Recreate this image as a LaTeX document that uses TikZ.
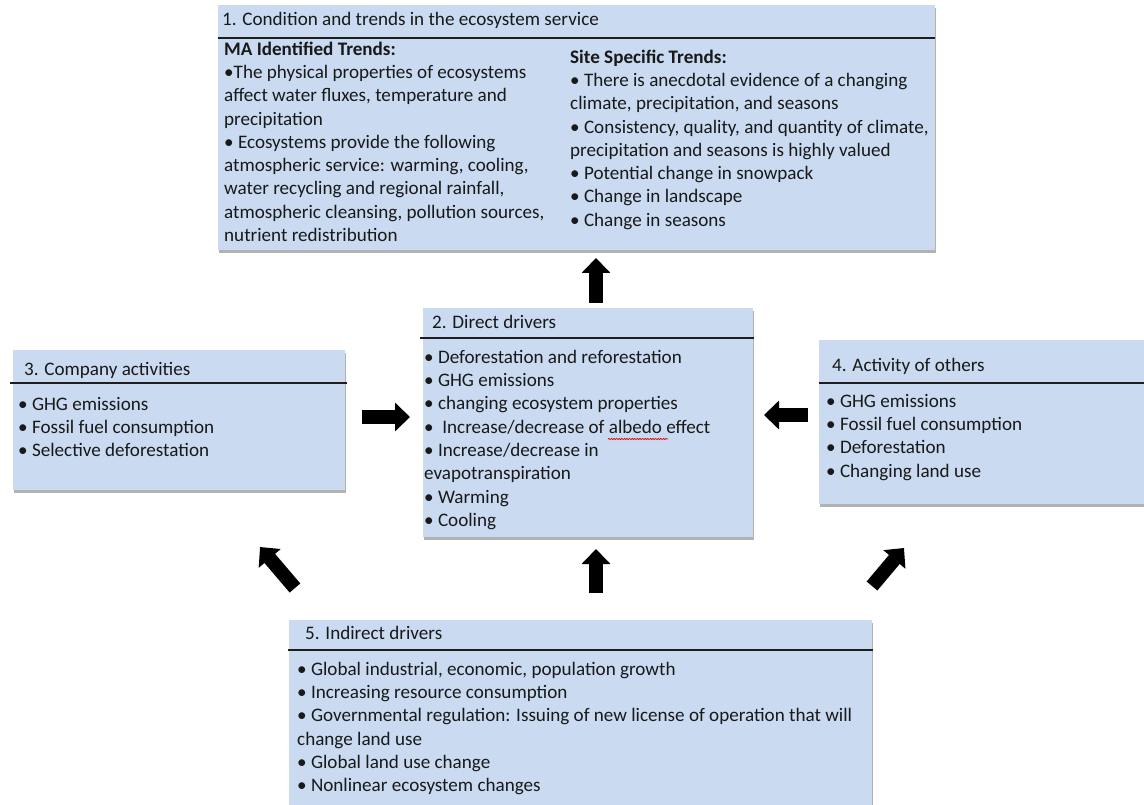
\documentclass[tikz,border=0pt]{standalone}
\usepackage{fontspec}
\setmainfont{Carlito}
\usetikzlibrary{arrows.meta,shadows,calc,decorations.pathmorphing}
\definecolor{boxblue}{RGB}{201,218,241}
\definecolor{hdrline}{RGB}{30,30,30}
\tikzset{
  box/.style={draw=none, fill=boxblue, anchor=north west, inner sep=0pt,
    drop shadow={shadow xshift=0.6pt, shadow yshift=-2.5pt, fill=black, opacity=0.3}},
  hdr/.style={draw=hdrline, line width=2pt},
  txt/.style={anchor=north west, inner sep=0pt, align=left,
    font=\fontsize{19.1}{23.3}\selectfont, text=black!90},
  blockarrow/.style={line width=14pt, line cap=butt,
    -{Triangle[width=28pt,length=15pt]}},
}
\newcommand{\fl}{\rule{0pt}{15pt}}
\begin{document}
\begin{tikzpicture}[x=1pt,y=-1pt]
\useasboundingbox[fill=white] (0,0) rectangle (1144,805);
\clip (0,0) rectangle (1144,805);

% boxes
\node[box, minimum width=717pt, minimum height=245pt] (b1) at (218,5) {};
\node[box, minimum width=330pt, minimum height=229pt] (b2) at (423,308) {};
\node[box, minimum width=332pt, minimum height=140pt] (b3) at (13,350) {};
\node[box, minimum width=340pt, minimum height=164pt] (b4) at (819,340) {};
\node[box, minimum width=583pt, minimum height=200pt] (b5) at (289,620) {};

% header lines
\draw[hdr] ($(b1.north west)+(0,33)$) -- ($(b1.north east)+(0,33)$);
\draw[hdr] ($(b2.north west)+(-3,30)$) -- ($(b2.north east)+(1,30)$);
\draw[hdr] ($(b3.north west)+(-3,33)$) -- ($(b3.north east)+(2,33)$);
\draw[hdr] ($(b4.north west)+(0,43)$) -- ($(b4.north east)+(0,43)$);
\draw[hdr] ($(b5.north west)+(-1,30)$) -- ($(b5.north east)+(1,30)$);

% box 1 texts
\node[txt] (t1) at (222,10) {\fl 1. Condition and trends in the ecosystem service};
\node[txt] (l1) at (224,40) {\fl\textbf{MA Identified Trends:}\\
•The physical properties of ecosystems\\
affect water fluxes, temperature and\\
precipitation\\
• Ecosystems provide the following\\
atmospheric service: warming, cooling,\\
water recycling and regional rainfall,\\
atmospheric cleansing, pollution sources,\\
nutrient redistribution};
\node[txt] (r1) at (570,48) {\fl\textbf{Site Specific Trends:}\\
• There is anecdotal evidence of a changing\\
climate, precipitation, and seasons\\
• Consistency, quality, and quantity of climate,\\
precipitation and seasons is highly valued\\
• Potential change in snowpack\\
• Change in landscape\\
• Change in seasons};

% box 2 texts
\node[txt] (t2) at (432,313) {\fl 2. Direct drivers};
\node[txt] (l2) at (424,348) {\fl • Deforestation and reforestation\\
• GHG emissions\\
• changing ecosystem properties\\
•\ \ Increase/decrease of albedo effect\\
• Increase/decrease in\\
evapotranspiration\\
• Warming\\
• Cooling};
\draw[red!85!black, line width=0.7pt, decorate,
  decoration={snake, amplitude=0.6pt, segment length=2.6pt}] (608,439) -- (668,439);

% box 3 texts
\node[txt] (t3) at (24,360) {\fl 3. Company activities};
\node[txt] (l3) at (18,395) {\fl • GHG emissions\\
• Fossil fuel consumption\\
• Selective deforestation};

% box 4 texts
\node[txt] (t4) at (832,356) {\fl 4. Activity of others};
\node[txt] (l4) at (826,392) {\fl • GHG emissions\\
• Fossil fuel consumption\\
• Deforestation\\
• Changing land use};

% box 5 texts
\node[txt] (t5) at (305,624) {\fl 5. Indirect drivers};
\node[txt] (l5) at (297,660) {\fl • Global industrial, economic, population growth\\
• Increasing resource consumption\\
• Governmental regulation: Issuing of new license of operation that will\\
change land use\\
• Global land use change\\
• Nonlinear ecosystem changes};

% arrow end points
\coordinate (a21s) at (596,303);  \coordinate (a21e) at (596,258);
\coordinate (a32s) at (362,417);  \coordinate (a32e) at (410,417);
\coordinate (a42s) at (808,415);  \coordinate (a42e) at (764,415);
\coordinate (a52s) at (596,593);  \coordinate (a52e) at (596,549);
\coordinate (a53s) at (295,588);  \coordinate (a53e) at (260,547);
\coordinate (a54s) at (872,586);  \coordinate (a54e) at (904,548);

\draw[blockarrow] (a21s) -- (a21e);
\draw[blockarrow] (a32s) -- (a32e);
\draw[blockarrow] (a42s) -- (a42e);
\draw[blockarrow] (a52s) -- (a52e);
\draw[blockarrow] (a53s) -- (a53e);
\draw[blockarrow] (a54s) -- (a54e);
\end{tikzpicture}
\end{document}
